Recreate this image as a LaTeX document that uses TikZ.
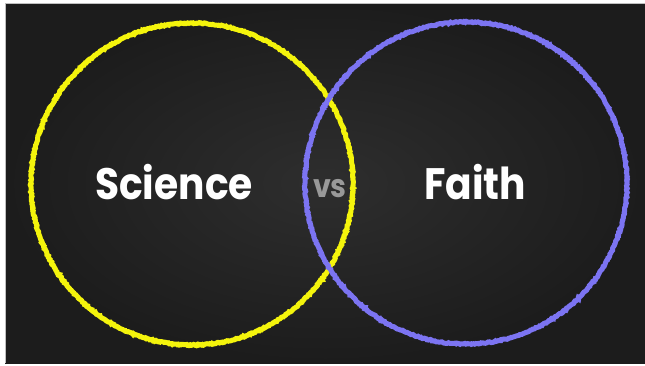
\documentclass[tikz,border=0pt]{standalone}
\usepackage{fontspec}
\newfontfamily\pop[FakeStretch=0.89]{Poppins}
\usetikzlibrary{decorations.pathmorphing}
\definecolor{boardout}{HTML}{1C1C1C}
\definecolor{boardin}{HTML}{2E2E2E}
\definecolor{chalkyel}{HTML}{F4F40C}
\definecolor{chalkvio}{HTML}{7C74F2}

\begin{document}
\begin{tikzpicture}[x=1pt,y=-1pt,
  chalk/.style={line width=5pt,decorate,decoration={random steps,segment length=1.2pt,amplitude=0.6pt}},
  word/.style={text=white,font=\pop\bfseries\fontsize{44}{44}\selectfont,inner sep=0pt}]
\useasboundingbox (0,0) rectangle (645,365);
\fill[white] (0,0) rectangle (645,365);
%黒板
\shade[inner color=boardin,outer color=boardout] (5,3) rectangle (645,363);
\draw[gray!50] (5,363) -- (5,3) -- (645,3);

%円の中心
\coordinate (sc) at (192,184);
\coordinate (fc) at (466,183);
\draw[chalk,chalkyel] (sc) circle (161pt);
\draw[chalk,chalkvio] (fc) circle (161pt);

%ラベル
\node[word,anchor=base] (sci) at (174,199) {Science};
\node[word,anchor=base] (fai) at (475,199) {Faith};
\node[word,anchor=base,text=gray!80,font=\pop\bfseries\fontsize{32}{32}\selectfont] (vs) at (330,197) {vs};
\end{tikzpicture}
\end{document}
